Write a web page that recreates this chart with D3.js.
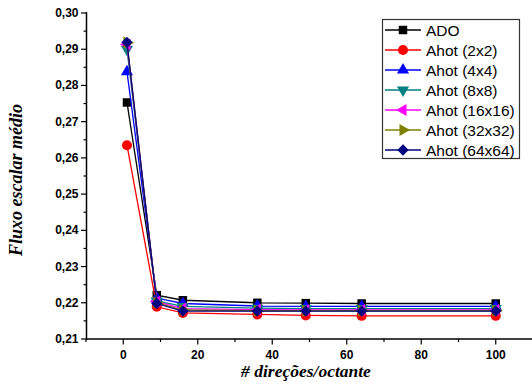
<!DOCTYPE html>
<html><head><meta charset="utf-8">
<script src="https://cdn.jsdelivr.net/npm/d3@7"></script>
<style>body{margin:0;background:#fff}svg{display:block}</style>
</head><body>
<svg id="c" width="532" height="382"></svg>
<script>
const xValues = [1, 9, 16, 36, 49, 64, 100];
const seriesNames = ["ADO", "Ahot (2x2)", "Ahot (4x4)", "Ahot (8x8)", "Ahot (16x16)", "Ahot (32x32)", "Ahot (64x64)"];
const ado   = [0.2753, 0.2221, 0.2207, 0.2200, 0.2199, 0.2198, 0.2198];
const a2x2  = [0.2635, 0.2189, 0.2172, 0.2168, 0.2165, 0.2164, 0.2164];
const a4x4  = [0.2838, 0.2213, 0.2198, 0.2191, 0.2190, 0.2190, 0.2190];
const a8x8  = [0.2900, 0.2205, 0.2190, 0.2185, 0.2184, 0.2184, 0.2184];
const a16   = [0.2913, 0.2203, 0.2184, 0.2181, 0.2180, 0.2180, 0.2180];
const a32   = [0.2918, 0.2200, 0.2180, 0.2178, 0.2178, 0.2178, 0.2178];
const a64   = [0.2919, 0.2198, 0.2177, 0.2177, 0.2177, 0.2177, 0.2177];
const seriesValues = [ado, a2x2, a4x4, a8x8, a16, a32, a64];
const xTicks = [0, 20, 40, 60, 80, 100];
const yTicks = [0.21, 0.22, 0.23, 0.24, 0.25, 0.26, 0.27, 0.28, 0.29, 0.30];

const colors = ["#000000", "#ff0000", "#0000ff", "#008080", "#ff00ff", "#808000", "#000080"];
const shapes = [
  {t: d3.symbolSquare, s: 72, r: 0},
  {t: d3.symbolCircle, s: 80, r: 0},
  {t: d3.symbolTriangle, s: 64, r: 0},
  {t: d3.symbolTriangle, s: 64, r: 180},
  {t: d3.symbolTriangle, s: 64, r: -90},
  {t: d3.symbolTriangle, s: 64, r: 90},
  {t: d3.symbolSquare, s: 64, r: 45}
];

const svg = d3.select("#c");
const x = d3.scaleLinear().domain([-10, 110]).range([86, 533]);
const y = d3.scaleLinear().domain([0.21, 0.30]).range([339, 13]);
const fmt = v => d3.format(".2f")(v).replace(".", ",");

// X axis
const gx = svg.append("g").attr("transform", "translate(0,339)");
gx.append("line").attr("x1", 86).attr("x2", 533).attr("stroke", "#000").attr("stroke-width", 1.5);
const xMinor = d3.range(-10, 111, 10).filter(v => v % 20 !== 0);
gx.selectAll(".xm").data(xMinor).enter().append("line")
  .attr("x1", d => x(d)).attr("x2", d => x(d)).attr("y1", 0).attr("y2", 3).attr("stroke", "#000").attr("stroke-width", 1.2);
gx.selectAll(".xM").data(xTicks).enter().append("line")
  .attr("x1", d => x(d)).attr("x2", d => x(d)).attr("y1", 0).attr("y2", 5.5).attr("stroke", "#000").attr("stroke-width", 1.2);
gx.selectAll(".xl").data(xTicks).enter().append("text")
  .attr("x", d => x(d)).attr("y", 19.5).attr("text-anchor", "middle")
  .attr("font-family", "Liberation Sans, Arial, sans-serif").attr("font-weight", "bold").attr("font-size", 12)
  .text(d => d);

// Y axis
const gy = svg.append("g").attr("transform", "translate(86.5,0)");
gy.append("line").attr("y1", 12).attr("y2", 339.5).attr("stroke", "#000").attr("stroke-width", 1.5);
const yMinor = d3.range(0, 9).map(i => 0.215 + i * 0.01);
gy.selectAll(".ym").data(yMinor).enter().append("line")
  .attr("y1", d => y(d)).attr("y2", d => y(d)).attr("x1", 0).attr("x2", -3).attr("stroke", "#000").attr("stroke-width", 1.2);
gy.selectAll(".yM").data(yTicks).enter().append("line")
  .attr("y1", d => y(d)).attr("y2", d => y(d)).attr("x1", 0).attr("x2", -5.5).attr("stroke", "#000").attr("stroke-width", 1.2);
gy.selectAll(".yl").data(yTicks).enter().append("text")
  .attr("x", -8).attr("y", d => y(d) + 4).attr("text-anchor", "end")
  .attr("font-family", "Liberation Sans, Arial, sans-serif").attr("font-weight", "bold").attr("font-size", 12)
  .text(d => fmt(d));

// Titles
svg.append("text").attr("x", 306).attr("y", 377).attr("text-anchor", "middle")
  .attr("font-family", "Liberation Serif, Times New Roman, serif").attr("font-weight", "bold").attr("font-style", "italic").attr("font-size", 17.5)
  .text("# direções/octante");
svg.append("text").attr("transform", "translate(22,180) rotate(-90)").attr("text-anchor", "middle")
  .attr("font-family", "Liberation Serif, Times New Roman, serif").attr("font-weight", "bold").attr("font-style", "italic").attr("font-size", 18)
  .text("Fluxo escalar médio");

// Series
const line = d3.line().x((d, i) => x(xValues[i])).y(d => y(d));
seriesValues.forEach((vals, k) => {
  const g = svg.append("g");
  g.append("path").attr("d", line(vals)).attr("fill", "none").attr("stroke", colors[k]).attr("stroke-width", 1.3);
  g.selectAll("path.m").data(vals).enter().append("path").attr("class", "m")
    .attr("d", d3.symbol().type(shapes[k].t).size(shapes[k].s))
    .attr("transform", (d, i) => `translate(${x(xValues[i])},${y(d)}) rotate(${shapes[k].r})`)
    .attr("fill", colors[k]);
});

// Legend
const lg = svg.append("g");
lg.append("rect").attr("x", 382.5).attr("y", 19.5).attr("width", 137).attr("height", 139)
  .attr("fill", "#fff").attr("stroke", "#333").attr("stroke-width", 1.2);
seriesNames.forEach((name, k) => {
  const yy = 30 + k * 20;
  lg.append("line").attr("x1", 385).attr("x2", 421).attr("y1", yy).attr("y2", yy).attr("stroke", colors[k]).attr("stroke-width", 1.3);
  lg.append("path").attr("d", d3.symbol().type(shapes[k].t).size(shapes[k].s)())
    .attr("transform", `translate(403,${yy}) rotate(${shapes[k].r})`).attr("fill", colors[k]);
  lg.append("text").attr("x", 426).attr("y", yy + 5.5)
    .attr("font-family", "Liberation Sans, Arial, sans-serif").attr("font-size", 15.5).text(name);
});
</script>
</body></html>
